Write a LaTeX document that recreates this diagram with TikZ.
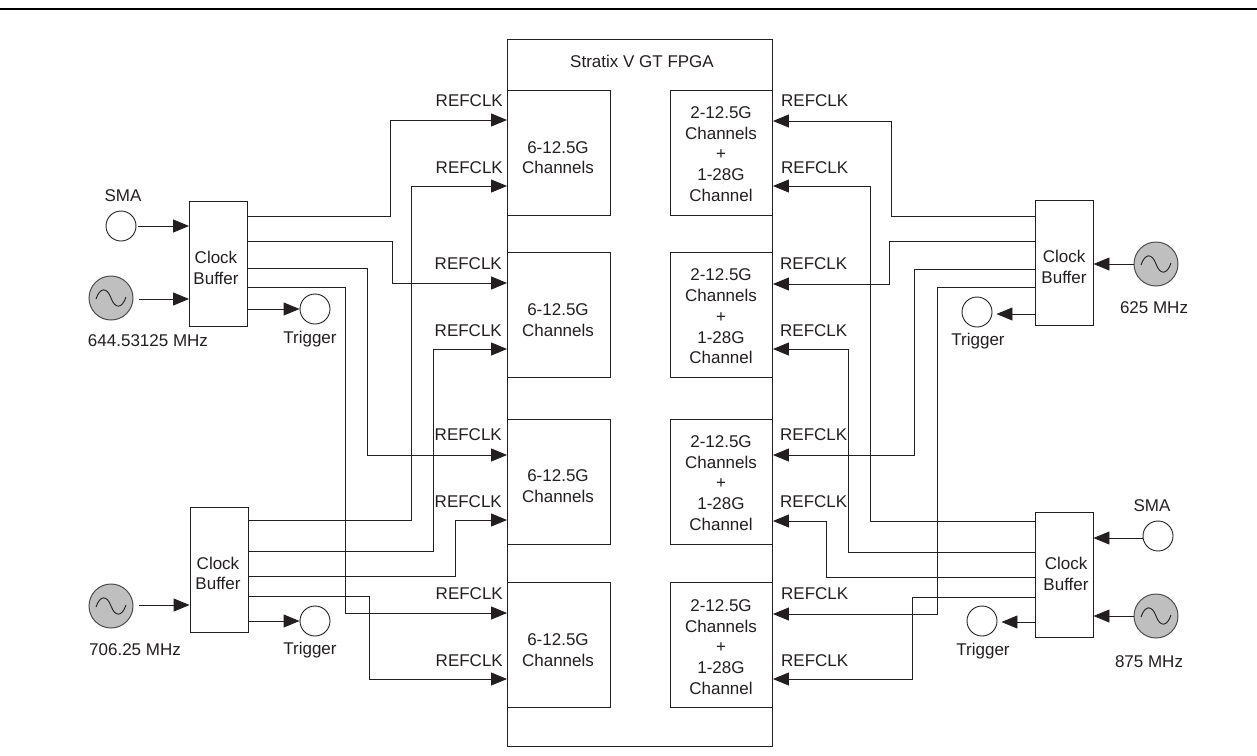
\documentclass[tikz,border=0pt]{standalone}
\usepackage{fontspec}
\setmainfont{Liberation Sans}
\usetikzlibrary{arrows.meta}
\definecolor{ink}{HTML}{231F20}
\tikzset{
  every node/.style={text=ink},
  lbl/.style={inner sep=0pt,font=\fontsize{17}{20.7}\selectfont,align=center},
  frame/.style={draw=ink,line width=0.9pt,fill=white,inner sep=0pt,minimum width=#1},
  blk/.style={frame=102.5pt,minimum height=125pt},
  buf/.style={frame=58pt,minimum height=125pt},
  port/.style={circle,draw=ink,line width=0.9pt,fill=white,inner sep=0pt,minimum size=30pt},
  osc/.style={circle,draw=ink!80,line width=1pt,fill=gray!50,inner sep=0pt,minimum size=44pt},
  wave/.style={draw=ink,line width=0.9pt},
  arr/.style={draw=ink,line width=0.9pt,-{Triangle[length=16pt,width=13pt]},shorten >=0pt}
}
\newcommand{\lwire}[5]{\draw[arr] (#1.east |- 0,#2) -- (#3,#2) -- (#3,#5) -- (#4.west |- 0,#5);}
\newcommand{\rwire}[5]{\draw[arr] (#1.west |- 0,#2) -- (#3,#2) -- (#3,#5) -- (#4.east |- 0,#5);}
\newcommand{\sinewave}[1]{\draw[wave,shift={(#1.center)}] (-15,1) .. controls (-11,-11) and (-4,-11) .. (0,0) .. controls (4,11) and (11,11) .. (15,-1);}
\begin{document}
\begin{tikzpicture}[x=1pt,y=-1pt]
\useasboundingbox (0,0) rectangle (1257,755);
\coordinate (ruleL) at (0,8.7);
\coordinate (ruleR) at (1257,8.7);
\draw[draw=black,line width=1.8pt] (ruleL) -- (ruleR);
% FPGA
\node[draw=ink,line width=0.9pt,fill=white,inner sep=0pt,minimum width=265pt,minimum height=707pt] (fpga) at (640,393.2) {};
\node[lbl] (fpgat) at (642,61) {Stratix V GT FPGA};
% blocks
\node[blk] (L1) at (558.75,153) {};
\node[blk] (L2) at (558.75,315) {};
\node[blk] (L3) at (558.75,481.5) {};
\node[blk] (L4) at (558.75,645) {};
\node[blk] (R1) at (721.25,153) {};
\node[blk] (R2) at (721.25,315) {};
\node[blk] (R3) at (721.25,481.5) {};
\node[blk] (R4) at (721.25,645) {};
\node[lbl] (L1t) at (558,157.5) {6-12.5G\\Channels};
\node[lbl] (L2t) at (558,320) {6-12.5G\\Channels};
\node[lbl] (L3t) at (558,486) {6-12.5G\\Channels};
\node[lbl] (L4t) at (558,650) {6-12.5G\\Channels};
\node[lbl] (R1t) at (721,154) {2-12.5G\\Channels\\+\\1-28G\\Channel};
\node[lbl] (R2t) at (721,316.5) {2-12.5G\\Channels\\+\\1-28G\\Channel};
\node[lbl] (R3t) at (721,483) {2-12.5G\\Channels\\+\\1-28G\\Channel};
\node[lbl] (R4t) at (721,647) {2-12.5G\\Channels\\+\\1-28G\\Channel};
% buffers
\node[buf] (BLT) at (218.5,263.5) {};
\node[buf] (BLB) at (219,569.5) {};
\node[buf] (BRT) at (1064,262.5) {};
\node[buf] (BRB) at (1064,574.5) {};
\node[lbl] (BLTt) at (216,268) {Clock\\Buffer};
\node[lbl] (BLBt) at (218,573.5) {Clock\\Buffer};
\node[lbl] (BRTt) at (1064,267) {Clock\\Buffer};
\node[lbl] (BRBt) at (1066,574) {Clock\\Buffer};
% sources and triggers, left
\node[port] (smaL) at (121,226) {};
\node[lbl] (smaLt) at (123,196) {SMA};
\node[osc] (oscLT) at (111,298) {};
\sinewave{oscLT}
\node[lbl] (oscLTt) at (148,341) {644.53125 MHz};
\node[port] (trLT) at (315,309) {};
\node[lbl] (trLTt) at (310,339) {Trigger};
\node[osc] (oscLB) at (111,606) {};
\sinewave{oscLB}
\node[lbl] (oscLBt) at (135,650) {706.25 MHz};
\node[port] (trLB) at (315,621) {};
\node[lbl] (trLBt) at (310,650) {Trigger};
% sources and triggers, right
\node[osc] (oscRT) at (1156,264) {};
\sinewave{oscRT}
\node[lbl] (oscRTt) at (1154,308) {625 MHz};
\node[port] (trRT) at (977,312) {};
\node[lbl] (trRTt) at (978,341) {Trigger};
\node[port] (smaR) at (1158,536) {};
\node[lbl] (smaRt) at (1152,506) {SMA};
\node[osc] (oscRB) at (1156,616) {};
\sinewave{oscRB}
\node[lbl] (oscRBt) at (1149,662) {875 MHz};
\node[port] (trRB) at (982,621) {};
\node[lbl] (trRBt) at (983,651) {Trigger};
% source arrows
\draw[arr] ([xshift=2pt]smaL.east) -- (BLT.west |- smaL.east);
\draw[arr] ([xshift=5pt]oscLT.east |- 0,299) -- (BLT.west |- 0,299);
\draw[arr] ([xshift=5pt]oscLB.east |- 0,605) -- (BLB.west |- 0,605);
\draw[arr] (BLT.east |- trLT.west) -- (trLT.west);
\draw[arr] (BLB.east |- trLB.west) -- (trLB.west);
\draw[arr] (oscRT.west) -- (BRT.east |- oscRT.west);
\draw[arr] (smaR.west |- 0,538) -- (BRB.east |- 0,538);
\draw[arr] (oscRB.west) -- (BRB.east |- oscRB.west);
\draw[arr] (BRT.west |- 0,314) -- ([xshift=4pt]trRT.east |- 0,314);
\draw[arr] (BRB.west |- 0,622) -- ([xshift=4pt]trRB.east |- 0,622);
% REFCLK wires, left
\lwire{BLT}{216}{390}{L1}{120}
\lwire{BLB}{520}{411}{L1}{186}
\lwire{BLT}{241}{392}{L2}{283}
\lwire{BLB}{551}{433}{L2}{349}
\lwire{BLT}{268}{367}{L3}{455}
\lwire{BLB}{576}{455}{L3}{520}
\lwire{BLT}{287}{345}{L4}{613}
\lwire{BLB}{596}{369}{L4}{679}
% REFCLK wires, right
\rwire{BRT}{216}{891}{R1}{121}
\rwire{BRB}{521}{870}{R1}{186}
\rwire{BRT}{241}{889}{R2}{284}
\rwire{BRB}{552}{848}{R2}{349}
\rwire{BRT}{269}{914}{R3}{455}
\rwire{BRB}{577}{826}{R3}{521}
\rwire{BRT}{287}{937}{R4}{614}
\rwire{BRB}{597}{912}{R4}{679}
% REFCLK labels
\node[lbl,anchor=east] (rl1) at (503,101) {REFCLK};
\node[lbl,anchor=east] (rl2) at (503,168) {REFCLK};
\node[lbl,anchor=east] (rl3) at (502,264) {REFCLK};
\node[lbl,anchor=east] (rl4) at (502,331) {REFCLK};
\node[lbl,anchor=east] (rl5) at (502,435) {REFCLK};
\node[lbl,anchor=east] (rl6) at (502,502) {REFCLK};
\node[lbl,anchor=east] (rl7) at (503,594) {REFCLK};
\node[lbl,anchor=east] (rl8) at (503,661) {REFCLK};
\node[lbl,anchor=west] (rr1) at (781,101) {REFCLK};
\node[lbl,anchor=west] (rr2) at (781,168) {REFCLK};
\node[lbl,anchor=west] (rr3) at (780,264) {REFCLK};
\node[lbl,anchor=west] (rr4) at (780,331) {REFCLK};
\node[lbl,anchor=west] (rr5) at (780,435) {REFCLK};
\node[lbl,anchor=west] (rr6) at (780,502) {REFCLK};
\node[lbl,anchor=west] (rr7) at (781,594) {REFCLK};
\node[lbl,anchor=west] (rr8) at (781,661) {REFCLK};
\end{tikzpicture}
\end{document}
